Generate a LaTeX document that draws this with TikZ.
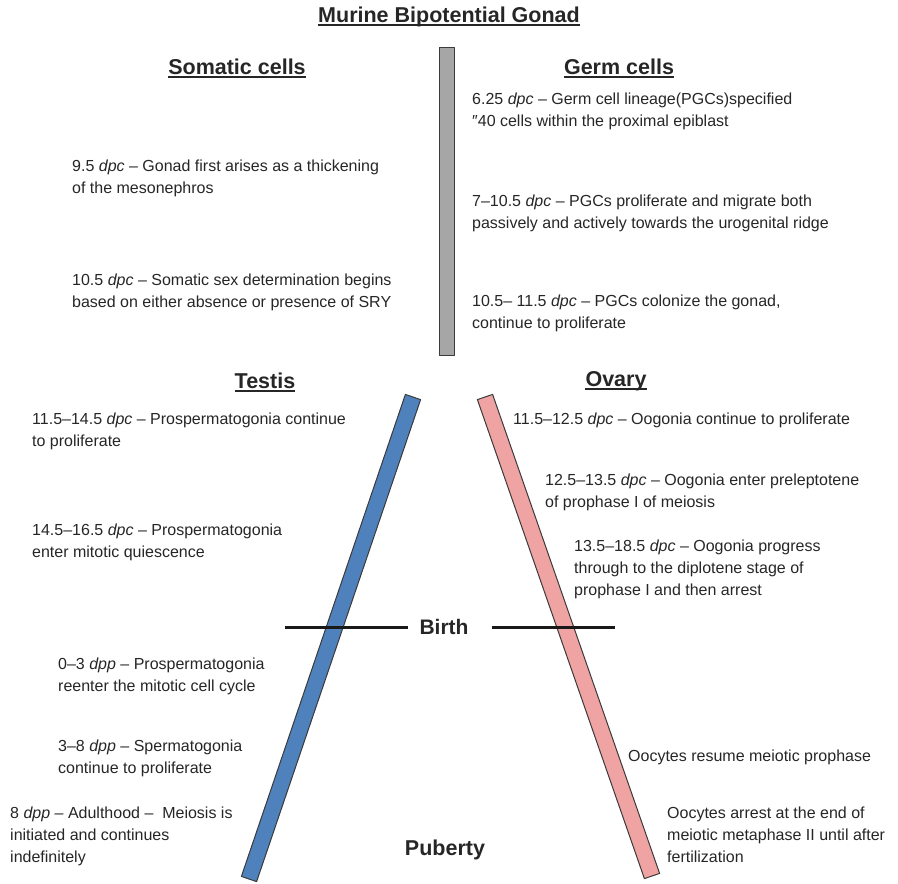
\documentclass[tikz,border=0pt]{standalone}
\usepackage{fontspec}
\setmainfont{Liberation Sans}
\definecolor{barblue}{HTML}{4F81BD}
\definecolor{barpink}{HTML}{EFA3A3}
\definecolor{bargrey}{HTML}{A6A6A6}
\definecolor{barline}{HTML}{3A3A3A}
\begin{document}
\begin{tikzpicture}[x=1pt,y=-1pt,
  body/.style={font=\fontsize{16}{22}\selectfont, align=left, anchor=base west, inner sep=0pt, text=black!85},
  head/.style={font=\fontsize{21.5}{26}\selectfont\bfseries, anchor=base, inner sep=0pt, text=black!85},
  uline/.style={line width=1.8pt, black!85},
  bar/.style={draw=barline, line width=1pt, line join=round},
  birthline/.style={line width=3pt, black!90}]
\useasboundingbox (0,0) rectangle (898,884);

% headings
\node[head] (title) at (449,22) {Murine Bipotential Gonad};
\draw[uline] ([yshift=-3pt]title.base west) -- ([yshift=-3pt]title.base east);
\node[head] (soma) at (237,74) {Somatic cells};
\draw[uline] ([yshift=-3pt]soma.base west) -- ([yshift=-3pt]soma.base east);
\node[head] (germ) at (619,74) {Germ cells};
\draw[uline] ([yshift=-3pt]germ.base west) -- ([yshift=-3pt]germ.base east);
\node[head] (testis) at (265,388) {Testis};
\draw[uline] ([yshift=-3pt]testis.base west) -- ([yshift=-3pt]testis.base east);
\node[head] (ovary) at (616,386) {Ovary};
\draw[uline] ([yshift=-3pt]ovary.base west) -- ([yshift=-3pt]ovary.base east);

% bars
\draw[bar, fill=bargrey] (439,47) rectangle (454,355);
\draw[bar, fill=barblue] (405.4,394.4) -- (420.6,399.6) -- (256.6,881.6) -- (241.4,876.4) -- cycle;
\draw[bar, fill=barpink] (477.4,399.6) -- (492.6,394.4) -- (659.6,873.4) -- (644.4,878.6) -- cycle;

% birth
\node[head, font=\fontsize{21}{26}\selectfont\bfseries] (birth) at (444,634) {Birth};
\coordinate (bla) at (285,627);
\coordinate (blb) at (408,627);
\coordinate (bra) at (492,627);
\coordinate (brb) at (615,627);
\draw[birthline] (bla) -- (blb);
\draw[birthline] (bra) -- (brb);
\node[head] (puberty) at (445,855) {Puberty};

% somatic cells (anchor = baseline of last line)
\node[body] (s1) at (72,193) {9.5 \emph{dpc} – Gonad first arises as a thickening\\of the mesonephros};
\node[body] (s2) at (72,307) {10.5 \emph{dpc} – Somatic sex determination begins\\based on either absence or presence of SRY};

% germ cells
\node[body] (g1) at (472,126) {6.25 \emph{dpc} – Germ cell lineage(PGCs)specified\\″40 cells within the proximal epiblast};
\node[body] (g2) at (472,228) {7–10.5 \emph{dpc} – PGCs proliferate and migrate both\\passively and actively towards the urogenital ridge};
\node[body] (g3) at (472,328) {10.5– 11.5 \emph{dpc} – PGCs colonize the gonad,\\continue to proliferate};

% testis
\node[body] (t1) at (32,446) {11.5–14.5 \emph{dpc} – Prospermatogonia continue\\to proliferate};
\node[body] (t2) at (32,557) {14.5–16.5 \emph{dpc} – Prospermatogonia\\enter mitotic quiescence};
\node[body] (t3) at (58,691) {0–3 \emph{dpp} – Prospermatogonia\\reenter the mitotic cell cycle};
\node[body] (t4) at (58,773) {3–8 \emph{dpp} – Spermatogonia\\continue to proliferate};
\node[body] (t5) at (10,862) {8 \emph{dpp} – Adulthood –\ \ Meiosis is\\initiated and continues\\indefinitely};

% ovary
\node[body] (o1) at (513,424) {11.5–12.5 \emph{dpc} – Oogonia continue to proliferate};
\node[body] (o2) at (545,507) {12.5–13.5 \emph{dpc} – Oogonia enter preleptotene\\of prophase I of meiosis};
\node[body] (o3) at (574,595) {13.5–18.5 \emph{dpc} – Oogonia progress\\through to the diplotene stage of\\prophase I and then arrest};
\node[body] (o4) at (628,761) {Oocytes resume meiotic prophase};
\node[body] (o5) at (667,862) {Oocytes arrest at the end of\\meiotic metaphase II until after\\fertilization};
\end{tikzpicture}
\end{document}
